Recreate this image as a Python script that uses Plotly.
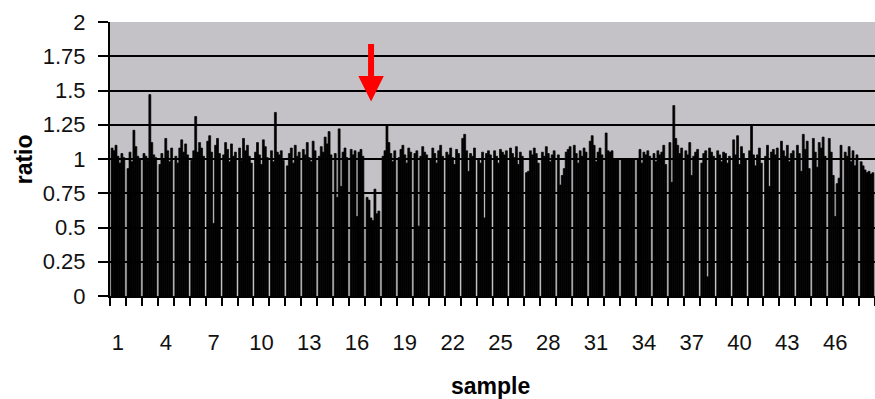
import plotly.graph_objects as go

samples = list(range(1, 49))

probe1 = [1.08, 0.93, 1.04, 0.96, 1.02, 0.99, 1.13, 1.03, 1.08, 1.05, 1.06, 0.95, 1.07, 1.02, 1.04, 1.07,
          0.72, 1.02, 1.01, 1.04, 1.00, 1.05, 1.15, 1.00, 1.06, 1.08, 0.90, 1.05, 1.03, 1.10, 1.13, 1.19,
          1.00, 1.00, 1.04, 1.12, 1.06, 0.97, 1.06, 1.14, 1.06, 1.02, 1.13, 1.10, 1.15, 1.15, 1.05, 0.98]
probe2 = [1.06, 1.05, 1.02, 1.04, 0.97, 1.06, 1.17, 1.12, 0.99, 1.12, 0.98, 1.04, 1.03, 1.09, 0.72, 1.03,
          0.70, 1.06, 1.07, 1.06, 1.08, 1.03, 1.18, 0.97, 1.02, 1.04, 0.91, 1.02, 0.81, 1.04, 1.17, 1.06,
          1.00, 1.07, 0.98, 0.83, 1.03, 1.04, 1.03, 1.03, 1.25, 1.10, 1.06, 1.04, 1.05, 1.05, 1.02, 0.95]
probe3 = [1.10, 0.98, 0.99, 1.00, 1.08, 1.31, 1.05, 1.07, 1.15, 1.03, 1.34, 1.08, 1.12, 1.05, 1.22, 1.06,
          0.57, 1.25, 1.10, 0.51, 1.04, 1.08, 1.06, 1.05, 0.97, 1.01, 1.06, 1.09, 0.88, 0.97, 1.10, 1.05,
          1.00, 0.97, 1.06, 1.39, 1.12, 1.06, 0.98, 1.17, 1.03, 0.80, 1.02, 0.91, 0.94, 0.88, 1.09, 0.92]
probe4 = [1.02, 1.21, 1.47, 1.15, 1.14, 1.05, 0.53, 0.98, 1.06, 0.96, 1.05, 0.97, 1.01, 1.16, 0.80, 0.58,
          0.55, 1.12, 1.03, 1.02, 0.97, 1.01, 0.91, 0.57, 1.07, 1.09, 1.03, 1.04, 0.93, 1.06, 0.98, 1.06,
          1.00, 1.05, 1.03, 1.15, 0.88, 0.14, 1.05, 0.96, 0.95, 1.05, 1.10, 1.18, 1.12, 0.58, 0.98, 0.90]
probe5 = [0.97, 1.09, 1.12, 1.06, 1.05, 1.12, 1.10, 1.11, 1.10, 1.14, 1.03, 1.10, 0.98, 1.11, 1.05, 1.05,
          0.78, 1.04, 0.97, 1.09, 1.06, 0.96, 1.04, 1.04, 1.05, 0.96, 1.08, 0.98, 1.05, 1.02, 1.05, 1.00,
          1.00, 1.03, 1.05, 1.10, 1.02, 1.08, 1.04, 1.09, 1.03, 1.07, 0.98, 1.07, 1.08, 0.82, 1.06, 0.91]
probe6 = [1.04, 1.02, 1.03, 0.98, 1.11, 1.08, 1.15, 1.02, 1.02, 1.09, 1.06, 1.02, 1.13, 1.20, 1.08, 1.07,
          0.60, 0.98, 1.08, 1.05, 1.10, 1.07, 1.02, 1.06, 1.03, 1.05, 1.04, 1.03, 1.07, 1.08, 1.08, 1.00,
          1.00, 1.06, 1.10, 1.04, 1.05, 1.05, 0.97, 1.04, 1.08, 1.03, 1.04, 1.13, 1.16, 0.86, 0.95, 0.89]
probe7 = [1.01, 1.00, 1.01, 1.08, 1.03, 1.02, 1.04, 1.05, 0.97, 1.01, 0.99, 1.05, 1.06, 1.03, 1.01, 1.02,
          0.62, 1.06, 1.05, 1.03, 1.02, 1.04, 1.08, 1.03, 1.06, 1.02, 0.97, 1.06, 1.09, 1.05, 1.03, 1.00,
          1.00, 1.02, 0.96, 1.08, 1.07, 1.02, 1.02, 1.00, 0.97, 1.08, 1.06, 0.93, 1.02, 1.10, 1.03, 0.90]

probes = [probe1, probe2, probe3, probe4, probe5, probe6, probe7]

x_tick_vals = list(range(1, 49, 3))
y_tick_vals = [0, 0.25, 0.5, 0.75, 1, 1.25, 1.5, 1.75, 2]
y_tick_text = ["0", "0.25", "0.5", "0.75", "1", "1.25", "1.5", "1.75", "2"]

arrow_sample = 16.88
arrow_tip = 1.42
arrow_tail = 1.85

FONT = "Liberation Sans, Arial, sans-serif"

fig = go.Figure()
for i, p in enumerate(probes):
    fig.add_trace(go.Bar(x=samples, y=p, name=f"probe {i+1}",
                         marker=dict(color="black", line=dict(width=0.7, color="black"))))

fig.update_layout(
    width=875, height=399,
    margin=dict(l=110, r=0, t=22, b=103),
    paper_bgcolor="white",
    plot_bgcolor="#C4C2C6",
    barmode="group", bargap=0.14, bargroupgap=0,
    showlegend=False,
    font=dict(family=FONT, size=22, color="#111111"),
)

fig.update_xaxes(
    range=[0.5, 48.5],
    tickmode="array", tickvals=x_tick_vals, ticktext=[str(v) for v in x_tick_vals],
    ticks="", showgrid=False, zeroline=False,
    showline=True, linecolor="black", linewidth=2,
    ticklabelstandoff=26,
    tickfont=dict(family=FONT, size=22, color="#111111"),
    minor=dict(tickmode="linear", tick0=0.5, dtick=1, ticks="outside",
               ticklen=8, tickwidth=2, tickcolor="black", showgrid=False),
)

fig.update_yaxes(
    range=[0, 2],
    tickmode="array", tickvals=y_tick_vals, ticktext=y_tick_text,
    ticks="outside", ticklen=10, tickwidth=2, tickcolor="black",
    ticklabelstandoff=8,
    showgrid=True, gridcolor="black", gridwidth=2,
    zeroline=False,
    showline=True, linecolor="black", linewidth=2,
    tickfont=dict(family=FONT, size=22, color="#111111"),
)

fig.add_annotation(x=0.498, y=-0.328, xref="paper", yref="paper", text="<b>sample</b>",
                   xanchor="center", yanchor="middle",
                   showarrow=False, font=dict(family=FONT, size=23, color="black"))
fig.add_annotation(x=-0.112, y=0.5, xref="paper", yref="paper", text="<b>ratio</b>",
                   xanchor="center", yanchor="middle",
                   textangle=-90, showarrow=False, font=dict(family=FONT, size=23, color="black"))

fig.add_annotation(x=arrow_sample, y=arrow_tip, ax=arrow_sample, ay=arrow_tail,
                   xref="x", yref="y", axref="x", ayref="y", text="",
                   showarrow=True, arrowhead=2, arrowsize=0.85, arrowwidth=6,
                   arrowcolor="#FF0000")

fig.write_html("out.html")
